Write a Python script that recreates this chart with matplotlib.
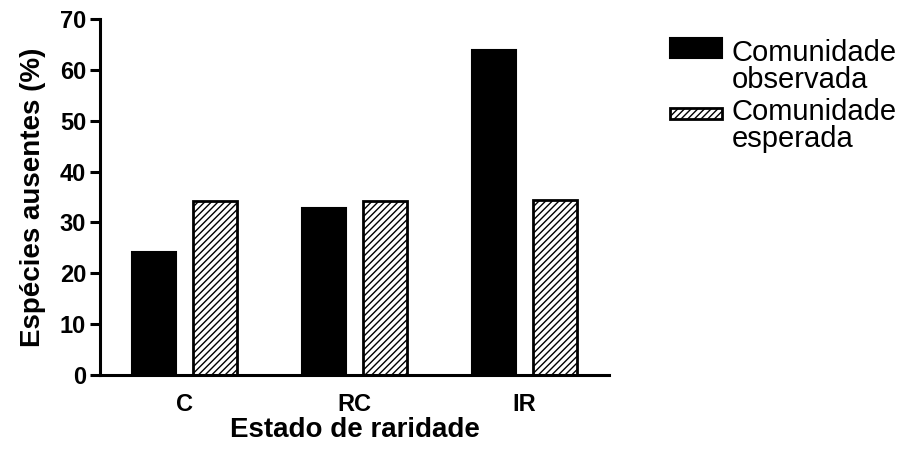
import matplotlib
matplotlib.use("Agg")
import matplotlib.pyplot as plt
from matplotlib.patches import Rectangle
from matplotlib.legend_handler import HandlerPatch
import numpy as np

categories = ["C", "RC", "IR"]
observada = [24.2, 32.9, 63.9]
esperada = [34.2, 34.2, 34.4]
series_labels = ["Comunidade\nobservada", "Comunidade\nesperada"]
yticks = [0, 10, 20, 30, 40, 50, 60, 70]

plt.rcParams['font.family'] = ['Liberation Sans', 'DejaVu Sans']
plt.rcParams['hatch.linewidth'] = 1.0

fig = plt.figure(figsize=(8.99, 4.5), dpi=100)
ax = fig.add_axes([100/899, 75/450, 509/899, 356/450])

x = np.arange(len(categories))
w = 0.26
b1 = ax.bar(x - 0.18, observada, w, color='black', edgecolor='black', linewidth=1.5,
            label=series_labels[0])
b2 = ax.bar(x + 0.18, esperada, w, color='white', edgecolor='black', linewidth=2,
            hatch='/////', label=series_labels[1])

ax.set_xlim(-0.5, 2.5)
ax.set_ylim(0, 70)
ax.set_yticks(yticks)
ax.set_xticks(x)
ax.set_xticklabels(categories)
for s in ['top', 'right']:
    ax.spines[s].set_visible(False)
for s in ['left', 'bottom']:
    ax.spines[s].set_linewidth(2.2)
ax.tick_params(axis='y', direction='out', length=7, width=2.2, labelsize=17, pad=3)
ax.tick_params(axis='x', length=0, labelsize=17, pad=13)
for lab in ax.get_xticklabels() + ax.get_yticklabels():
    lab.set_fontweight('bold')

ax.set_xlabel("Estado de raridade", fontsize=20, fontweight='bold', labelpad=1)
ax.set_ylabel("Espécies ausentes (%)", fontsize=20, fontweight='bold', labelpad=10)


def make_patch_func(dy, h):
    def f(legend, orig_handle, xdescent, ydescent, width, height, fontsize):
        return Rectangle((-xdescent, -ydescent + dy), width, h)
    return f


h1 = b1.patches[0]
h2 = b2.patches[0]
leg = fig.legend(handles=[h1, h2], labels=series_labels, loc='upper left',
                 bbox_to_anchor=(670/899, 1 - 39/450),
                 frameon=False, fontsize=21, handlelength=1.78, handleheight=0.6,
                 handletextpad=0.34, borderpad=0, borderaxespad=0, labelspacing=0.12,
                 handler_map={h1: HandlerPatch(patch_func=make_patch_func(13.5, 14.4)),
                              h2: HandlerPatch(patch_func=make_patch_func(12.0, 7.9))})
for t in leg.get_texts():
    t.set_linespacing(0.97)

fig.savefig("out.png", dpi=100)
